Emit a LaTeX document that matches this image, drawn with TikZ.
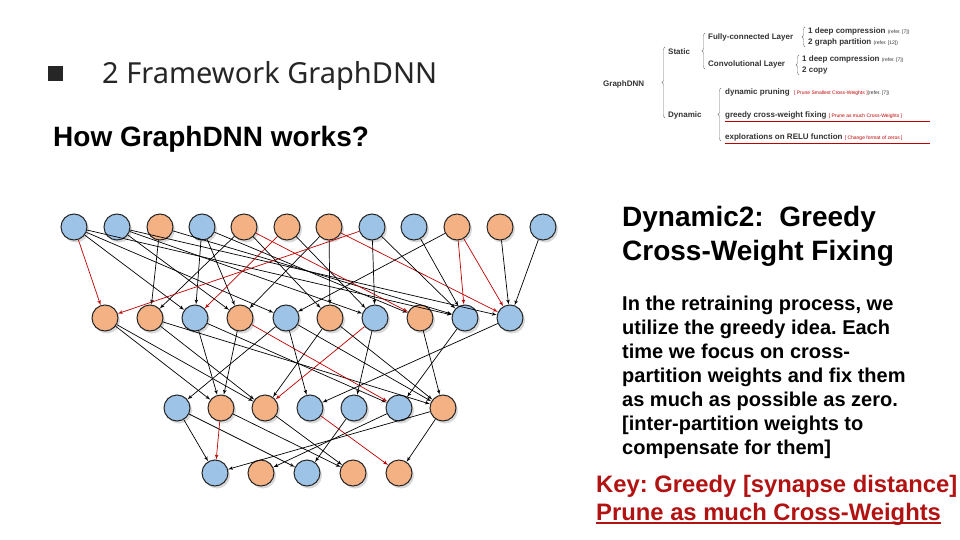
\documentclass[tikz,border=0pt]{standalone}
\usepackage{fontspec}
\setmainfont{Liberation Sans}
\newfontfamily\headfont{Noto Sans}
\frenchspacing
\usepackage{tikz}
\usetikzlibrary{positioning,arrows,shadows,decorations.pathreplacing}
\definecolor{cellblue}{RGB}{157,195,230}
\definecolor{cellorange}{RGB}{244,177,131}
\definecolor{crossred}{RGB}{192,0,0}
\definecolor{keyred}{RGB}{178,18,18}
\tikzset{
    x=1pt,
    y=-1pt,
    unit/.style = {
        draw=black!85,
        shape=circle,
        minimum size=26pt,
        inner sep=0pt,
        line width=1pt,
        drop shadow={shadow xshift=2pt, shadow yshift=-2.5pt, fill=black!30}
    },
    parta/.style = {
        unit,
        fill=cellorange
    },
    partb/.style = {
        unit,
        fill=cellblue
    },
    wire/.style = {
        draw,
        ->,
        line width=0.7pt
    },
    cross/.style = {
        draw,
        ->,
        line width=0.7pt,
        crossred
    },
    txt/.style = {
        anchor=base west,
        inner sep=0pt
    },
    tree/.style = {
        txt,
        text=black!80,
        font=\bfseries\fontsize{8}{9}\selectfont
    },
    brace/.style = {
        draw=black!55,
        line width=0.4pt,
        decorate,
        decoration={brace, amplitude=3pt}
    },
    >=latex',
}

\begin{document}
\begin{tikzpicture}
            \useasboundingbox[fill=white] (0,0) rectangle (960,540);

            % headings
            \node[fill=black!85, minimum size=15pt, inner sep=0pt] (bullet) at (55,74) {};
            \node[txt, text=black!85, font=\headfont\fontsize{29}{34}\selectfont] (title) at (102,84) {2 Framework GraphDNN};
            \node[txt, font=\bfseries\fontsize{28}{32}\selectfont] (how) at (53,147) {How GraphDNN works?};

            % layer 1
            \node[partb] (a1) at (74,227) {};
            \node[partb] (a2) at (117,227) {};
            \node[parta] (a3) at (160,227) {};
            \node[partb] (a4) at (202,227) {};
            \node[parta] (a5) at (244,227) {};
            \node[parta] (a6) at (287,227) {};
            \node[parta] (a7) at (329,227) {};
            \node[partb] (a8) at (372,227) {};
            \node[partb] (a9) at (414,227) {};
            \node[parta] (a10) at (457,227) {};
            \node[parta] (a11) at (500,227) {};
            \node[partb] (a12) at (543,227) {};

            % layer 2
            \node[parta] (b1) at (105,318) {};
            \node[parta] (b2) at (150,318) {};
            \node[partb] (b3) at (195,318) {};
            \node[parta] (b4) at (240,318) {};
            \node[partb] (b5) at (286,318) {};
            \node[parta] (b6) at (330,318) {};
            \node[partb] (b7) at (375,318) {};
            \node[parta] (b8) at (420,318) {};
            \node[partb] (b9) at (465,318) {};
            \node[partb] (b10) at (510,318) {};

            % layer 3
            \node[partb] (c1) at (177,408) {};
            \node[parta] (c2) at (221,408) {};
            \node[parta] (c3) at (265,408) {};
            \node[partb] (c4) at (310,408) {};
            \node[partb] (c5) at (354,408) {};
            \node[partb] (c6) at (399,408) {};
            \node[parta] (c7) at (443,408) {};

            % layer 4
            \node[partb] (d1) at (215,473) {};
            \node[parta] (d2) at (261,473) {};
            \node[partb] (d3) at (307,473) {};
            \node[parta] (d4) at (353,473) {};
            \node[parta] (d5) at (399,473) {};

            % layer 1 -> layer 2
            \path[cross] (a1) -- (b1);
            \path[wire] (a1) -- (b3);
            \path[wire] (a1) -- (b5);
            \path[wire] (a1) -- (b9);
            \path[wire] (a2) -- (b4);
            \path[wire] (a2) -- (b7);
            \path[wire] (a2) -- (b10);
            \path[wire] (a3) -- (b2);
            \path[wire] (a3) -- (b9);
            \path[wire] (a4) -- (b3);
            \path[wire] (a4) -- (b4);
            \path[wire] (a4) -- (b8);
            \path[wire] (a5) -- (b2);
            \path[wire] (a5) -- (b6);
            \path[cross] (a5) -- (b8);
            \path[wire] (a6) -- (b7);
            \path[cross] (a6) -- (b3);
            \path[wire] (a7) -- (b4);
            \path[wire] (a7) -- (b6);
            \path[cross] (a7) -- (b10);
            \path[cross] (a8) -- (b1);
            \path[wire] (a8) -- (b7);
            \path[wire] (a8) -- (b9);
            \path[wire] (a9) -- (b9);
            \path[wire] (a10) -- (b5);
            \path[cross] (a10) -- (b9);
            \path[cross] (a10) -- (b10);
            \path[wire] (a11) -- (b10);
            \path[wire] (a12) -- (b10);

            % layer 2 -> layer 3
            \path[wire] (b1) -- (c2);
            \path[wire] (b1) -- (c3);
            \path[wire] (b2) -- (c3);
            \path[wire] (b2) -- (c7);
            \path[wire] (b3) -- (c2);
            \path[wire] (b3) -- (c6);
            \path[wire] (b4) -- (c2);
            \path[cross] (b4) -- (c6);
            \path[wire] (b5) -- (c1);
            \path[wire] (b5) -- (c4);
            \path[wire] (b5) -- (c7);
            \path[wire] (b6) -- (c3);
            \path[wire] (b6) -- (c7);
            \path[cross] (b7) -- (c3);
            \path[wire] (b7) -- (c5);
            \path[wire] (b8) -- (c7);
            \path[wire] (b9) -- (c6);
            \path[wire] (b10) -- (c4);

            % layer 3 -> layer 4
            \path[wire] (c1) -- (d1);
            \path[wire] (c1) -- (d3);
            \path[cross] (c2) -- (d1);
            \path[wire] (c2) -- (d4);
            \path[wire] (c3) -- (d4);
            \path[cross] (c4) -- (d5);
            \path[wire] (c5) -- (d3);
            \path[wire] (c6) -- (d2);
            \path[wire] (c7) -- (d1);
            \path[wire] (c7) -- (d5);

            % overview tree
            \node[tree] (gdnn) at (603,87) {GraphDNN};
            \node[tree] (static) at (668,55) {Static};
            \node[tree] (dynamic) at (668,118) {Dynamic};
            \node[tree] (fc) at (708,40) {Fully-connected Layer};
            \node[tree] (conv) at (708,67) {Convolutional Layer};
            \node[tree] (fc1) at (808,34) {1 deep compression {\mdseries\fontsize{5}{6}\selectfont(refer. [7])}};
            \node[tree] (fc2) at (808,45) {2 graph partition {\mdseries\fontsize{5}{6}\selectfont(refer. [12])}};
            \node[tree] (cv1) at (802,62) {1 deep compression {\mdseries\fontsize{5}{6}\selectfont(refer. [7])}};
            \node[tree] (cv2) at (802,73) {2 copy};
            \node[tree] (dp) at (725,95) {dynamic pruning \ {\mdseries\fontsize{5}{6}\selectfont\color{crossred}[ Prune Smallest Cross-Weights ]\color{black!80} (refer. [7])}};
            \node[tree] (gf) at (725,118) {greedy cross-weight fixing {\mdseries\fontsize{5}{6}\selectfont\color{crossred}[ Prune as much Cross-Weights ]}};
            \node[tree] (er) at (725,140) {explorations on RELU function {\mdseries\fontsize{5}{6}\selectfont\color{crossred}[ Change format of zeros ]}};

            \path[brace] ([xshift=-3pt]dynamic.base west) -- ([xshift=-3pt, yshift=8pt]static.base west);
            \path[brace] ([xshift=-3pt, yshift=-2pt]conv.base west) -- ([xshift=-3pt, yshift=7pt]fc.base west);
            \path[brace] ([xshift=-3pt, yshift=-2pt]fc2.base west) -- ([xshift=-3pt, yshift=7pt]fc1.base west);
            \path[brace] ([xshift=-3pt, yshift=-2pt]cv2.base west) -- ([xshift=-3pt, yshift=7pt]cv1.base west);
            \path[brace] ([xshift=-4pt, yshift=-1pt]er.base west) -- ([xshift=-4pt, yshift=7pt]dp.base west);
            \path[draw=crossred, line width=0.8pt] ([yshift=-3pt]gf.base west) -- ++(205,0);
            \path[draw=crossred, line width=0.8pt] ([yshift=-3pt]er.base west) -- ++(205,0);

            % explanation
            \node[inner sep=0pt, anchor=north west, align=left, font=\bfseries\fontsize{28}{34}\selectfont] (head) at (622,206) {Dynamic2:\ \ Greedy\\Cross-Weight Fixing};
            \node[inner sep=0pt, anchor=north west, align=left, font=\bfseries\fontsize{20}{24}\selectfont] (body) at (622,296) {In the retraining process, we\\utilize the greedy idea. Each\\time we focus on cross-\\partition weights and fix them\\as much as possible as zero.\\{[}inter-partition weights to\\compensate for them{]}};
            \node[txt, text=keyred, font=\bfseries\fontsize{23.8}{28}\selectfont] (key) at (596,492) {Key: Greedy [synapse distance]};
            \node[txt, text=keyred, font=\bfseries\fontsize{23.8}{28}\selectfont] (prune) at (596,520) {Prune as much Cross-Weights};
            \path[draw=keyred, line width=1.6pt] ([yshift=-3pt]prune.base west) -- ([yshift=-3pt]prune.base east);
        \end{tikzpicture}
\end{document}
